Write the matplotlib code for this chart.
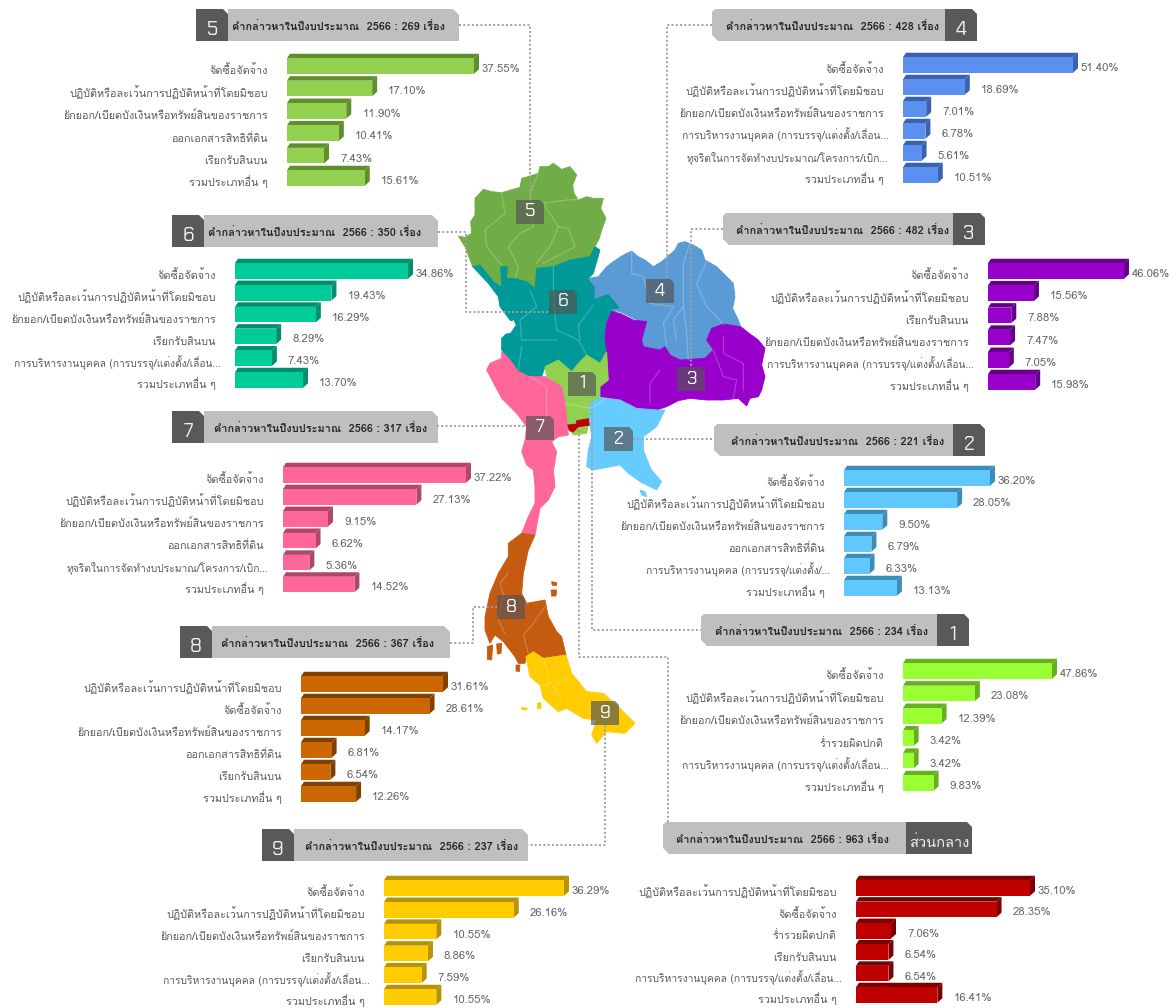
import matplotlib
matplotlib.use("Agg")
import matplotlib.pyplot as plt
from matplotlib.patches import Polygon

plt.rcParams['font.family'] = ['Loma', 'Noto Sans', 'DejaVu Sans']

W, H = 1176, 1008

BUY = "จัดซื้อจัดจ้าง"
DUTY = "ปฏิบัติหรือละเว้นการปฏิบัติหน้าที่โดยมิชอบ"
EMB = "ยักยอก/เบียดบังเงินหรือทรัพย์สินของราชการ"
LAND = "ออกเอกสารสิทธิที่ดิน"
BRIBE = "เรียกรับสินบน"
HR = "การบริหารงานบุคคล (การบรรจุ/แต่งตั้ง/เลื่อน..."
HR2 = "การบริหารงานบุคคล (การบรรจุ/แต่งตั้ง/..."
BUDGET = "ทุจริตในการจัดทำงบประมาณ/โครงการ/เบิก..."
RICH = "ร่ำรวยผิดปกติ"
OTHER = "รวมประเภทอื่น ๆ"

cats_5 = [BUY, DUTY, EMB, LAND, BRIBE, OTHER]
vals_5 = [37.55, 17.10, 11.90, 10.41, 7.43, 15.61]
cats_4 = [BUY, DUTY, EMB, HR, BUDGET, OTHER]
vals_4 = [51.40, 18.69, 7.01, 6.78, 5.61, 10.51]
cats_6 = [BUY, DUTY, EMB, BRIBE, HR, OTHER]
vals_6 = [34.86, 19.43, 16.29, 8.29, 7.43, 13.70]
cats_3 = [BUY, DUTY, BRIBE, EMB, HR, OTHER]
vals_3 = [46.06, 15.56, 7.88, 7.47, 7.05, 15.98]
cats_7 = [BUY, DUTY, EMB, LAND, BUDGET, OTHER]
vals_7 = [37.22, 27.13, 9.15, 6.62, 5.36, 14.52]
cats_2 = [BUY, DUTY, EMB, LAND, HR2, OTHER]
vals_2 = [36.20, 28.05, 9.50, 6.79, 6.33, 13.13]
cats_8 = [DUTY, BUY, EMB, LAND, BRIBE, OTHER]
vals_8 = [31.61, 28.61, 14.17, 6.81, 6.54, 12.26]
cats_1 = [BUY, DUTY, EMB, RICH, HR, OTHER]
vals_1 = [47.86, 23.08, 12.39, 3.42, 3.42, 9.83]
cats_9 = [BUY, DUTY, EMB, BRIBE, HR, OTHER]
vals_9 = [36.29, 26.16, 10.55, 8.86, 7.59, 10.55]
cats_c = [DUTY, BUY, RICH, BRIBE, HR, OTHER]
vals_c = [35.10, 28.35, 7.06, 6.54, 6.54, 16.41]

# name, cats, vals, total, bar left px, bar right px, first bar centre px, row pitch, colour, side colour
panels = [
    ("5", cats_5, vals_5, 269, 287, 474, 66, 22.4, "#92D050", "#5F8F2C"),
    ("4", cats_4, vals_4, 428, 903, 1073, 65, 22.0, "#5B8FF0", "#3A62AE"),
    ("6", cats_6, vals_6, 350, 235, 408, 271, 21.8, "#00CC99", "#008F6B"),
    ("3", cats_3, vals_3, 482, 988, 1124, 271, 22.2, "#9900CC", "#660088"),
    ("7", cats_7, vals_7, 317, 283, 466, 475, 21.9, "#FF6699", "#B0466A"),
    ("2", cats_2, vals_2, 221, 844, 990, 478, 22.0, "#5FC8FF", "#3D8DB8"),
    ("8", cats_8, vals_8, 367, 301, 443, 684, 22.0, "#CC6600", "#7F4000"),
    ("1", cats_1, vals_1, 234, 903, 1052, 671, 22.4, "#99FF33", "#66B020"),
    ("9", cats_9, vals_9, 237, 384, 564, 888, 21.8, "#FFCC00", "#B89200"),
    ("ส่วนกลาง", cats_c, vals_c, 963, 856, 1030, 888, 21.4, "#C00000", "#7C0000"),
]

# header boxes: grey x0, grey x1, top y, dark x0, dark x1, title centre x
headers = {
    "5": (228, 459, 9, 196, 228, 338),
    "4": (712, 945, 9, 945, 977, 833),
    "6": (204, 438, 215, 172, 204, 315),
    "3": (723, 953, 213, 953, 985, 843),
    "7": (204, 438, 411, 172, 204, 321),
    "2": (714, 953, 424, 953, 985, 838),
    "8": (212, 450, 626, 180, 212, 328),
    "1": (701, 937, 614, 937, 969, 822),
    "9": (294, 528, 829, 262, 294, 412),
    "ส่วนกลาง": (663, 906, 822, 906, 972, 783),
}

connectors = [
    [(459, 25), (530, 25), (530, 200)],
    [(712, 25), (667, 25), (667, 279)],
    [(723, 229), (691, 229), (691, 367)],
    [(438, 232), (466, 232), (466, 312), (549, 312)],
    [(437, 426), (525, 426)],
    [(633, 439), (714, 439)],
    [(592, 396), (592, 630), (701, 630)],
    [(579, 430), (579, 657), (668, 657), (668, 822)],
    [(450, 643), (473, 643), (473, 607), (497, 607)],
    [(605, 725), (605, 845), (528, 845)],
]

# map outlines
def up(pts):
    return [(430 + x / 3, 150 + y / 3) for x, y in pts]

def lo(pts):
    return [(440 + x / 3, 460 + y / 3) for x, y in pts]

map_5 = up([(85, 258), (105, 262), (125, 250), (122, 215), (135, 195), (135, 145), (160, 118), (185, 125), (215, 128), (250, 118), (270, 112), (275, 85), (300, 78), (325, 70), (330, 50), (355, 50), (370, 40), (395, 58), (420, 50), (440, 75), (428, 105), (432, 130), (445, 150), (470, 140), (490, 145), (520, 145), (512, 175), (528, 205), (515, 240), (508, 265), (495, 290), (505, 320), (480, 320), (420, 330), (370, 350), (320, 355), (315, 415), (290, 395), (255, 385), (230, 385), (232, 350), (212, 350), (215, 412), (190, 395), (150, 345), (128, 350), (105, 290)])
map_6 = up([(128, 350), (150, 345), (190, 395), (215, 412), (212, 350), (232, 350), (230, 385), (255, 385), (290, 395), (315, 415), (320, 355), (370, 350), (420, 330), (480, 320), (495, 290), (510, 300), (490, 370), (475, 385), (495, 410), (495, 445), (535, 430), (572, 475), (545, 490), (530, 520), (525, 560), (530, 605), (525, 630), (510, 640), (470, 615), (445, 640), (425, 665), (385, 630), (345, 650), (335, 680), (300, 680), (265, 665), (240, 630), (215, 600), (215, 565), (235, 545), (255, 520), (240, 510), (210, 470), (205, 440), (175, 400)])
map_lake = up([(225, 530), (250, 512), (256, 525), (240, 548), (222, 550)])
map_4 = up([(475, 385), (505, 380), (530, 350), (550, 335), (575, 318), (605, 303), (625, 320), (645, 330), (670, 350), (695, 335), (712, 320), (735, 300), (745, 280), (765, 275), (790, 285), (815, 300), (825, 330), (860, 350), (885, 375), (910, 400), (915, 440), (908, 475), (925, 510), (932, 530), (880, 525), (845, 535), (830, 570), (850, 600), (825, 625), (790, 630), (750, 630), (720, 615), (705, 590), (690, 600), (640, 590), (635, 570), (650, 520), (610, 505), (570, 485), (545, 480), (572, 475), (535, 430), (495, 445), (495, 410)])
map_3 = up([(545, 485), (570, 490), (610, 510), (650, 515), (635, 570), (640, 590), (690, 600), (705, 590), (720, 615), (750, 630), (825, 625), (850, 600), (830, 570), (845, 535), (880, 522), (932, 530), (960, 552), (985, 570), (1005, 595), (1000, 620), (995, 645), (1005, 680), (995, 720), (985, 740), (960, 745), (950, 768), (925, 745), (880, 750), (830, 750), (780, 745), (745, 752), (710, 770), (680, 780), (620, 775), (570, 750), (510, 742), (510, 710), (535, 690), (530, 605), (525, 560), (530, 520)])
map_1 = up([(345, 650), (385, 630), (425, 665), (445, 640), (470, 615), (510, 640), (530, 605), (535, 690), (510, 710), (510, 742), (480, 760), (478, 810), (470, 850), (430, 855), (410, 825), (405, 760), (395, 710), (350, 680)])
map_c = up([(413, 825), (440, 822), (440, 812), (475, 806), (478, 826), (445, 830), (430, 846), (418, 842)])
map_7 = up([(215, 605), (240, 630), (265, 665), (300, 680), (345, 680), (395, 710), (405, 760), (415, 855), (385, 860), (365, 875), (380, 905), (372, 950)]) + lo([(345, 10), (340, 30), (345, 80), (325, 120), (300, 145), (285, 225), (245, 220), (265, 170), (285, 130), (285, 80), (280, 30), (260, 15)]) + up([(275, 905), (285, 870), (290, 830), (260, 790), (215, 745), (170, 660), (180, 640), (215, 625)])
map_2 = up([(480, 760), (510, 742), (570, 750), (620, 775), (680, 780), (705, 780), (680, 830), (640, 860), (640, 900), (660, 950)]) + lo([(635, 30), (665, 65), (650, 90), (600, 65), (565, 40), (540, 15), (460, 30), (440, 20)]) + up([(475, 900), (485, 860), (478, 810)])
map_2b = lo([(600, 90), (615, 95), (620, 110), (605, 105)])
map_8 = lo([(245, 220), (285, 225), (265, 270), (250, 340), (245, 400), (260, 430), (315, 420), (325, 470), (350, 515), (365, 530), (378, 585), (310, 595), (280, 575), (258, 590), (255, 610), (235, 610), (225, 590), (190, 545), (165, 525), (150, 550), (135, 510), (135, 470), (150, 400), (175, 340), (205, 290), (205, 250)])
map_8b = lo([(142, 560), (158, 555), (155, 600), (142, 598)])
map_8c = lo([(170, 552), (185, 550), (183, 580), (172, 582)])
map_8d = lo([(335, 365), (350, 368), (350, 376), (337, 376)])
map_8e = lo([(333, 390), (350, 390), (348, 408), (335, 408)])
map_8f = lo([(228, 615), (240, 615), (238, 635), (228, 633)])
map_9 = lo([(258, 590), (280, 575), (310, 595), (378, 585), (395, 640), (440, 695), (490, 700), (530, 735), (585, 790), (555, 820), (500, 815), (470, 850), (455, 825), (470, 780), (430, 775), (380, 745), (355, 755), (310, 715), (300, 675), (270, 650)])
map_9b = lo([(292, 730), (303, 728), (303, 745), (292, 747)])
map_9c = lo([(245, 742), (262, 745), (260, 750), (246, 748)])

regions = [
    (map_5, "#70AD47"), (map_6, "#009999"), (map_4, "#5B9BD5"), (map_3, "#9900CC"),
    (map_1, "#92D050"), (map_7, "#FF6699"), (map_2, "#66CCFF"), (map_2b, "#66CCFF"),
    (map_8, "#C55A11"), (map_8b, "#C55A11"), (map_8c, "#C55A11"), (map_8d, "#C55A11"),
    (map_8e, "#C55A11"), (map_8f, "#C55A11"), (map_9, "#FFCC00"), (map_9b, "#FFCC00"),
    (map_9c, "#FFCC00"), (map_lake, "white"), (map_c, "#C00000"),
]

province_lines = [
    up([(215, 128), (225, 190), (165, 240), (170, 290), (215, 345)]),
    up([(325, 70), (300, 130), (310, 230), (270, 250), (235, 290), (265, 350), (255, 385)]),
    up([(445, 148), (410, 150), (340, 160), (385, 230), (415, 235), (435, 290), (340, 340)]),
    up([(385, 230), (360, 290), (320, 340)]),
    up([(370, 350), (370, 410), (375, 500), (380, 540), (445, 570), (470, 615)]),
    up([(300, 420), (320, 470), (270, 510), (275, 570), (380, 570)]),
    up([(490, 465), (445, 525), (450, 570)]),
    up([(275, 590), (265, 660)]),
    up([(605, 305), (605, 370), (640, 380), (660, 460), (730, 470), (700, 520), (710, 590)]),
    up([(780, 280), (760, 340), (760, 470), (770, 550), (775, 630)]),
    up([(830, 335), (800, 400), (830, 470), (860, 500), (880, 525)]),
    up([(760, 470), (730, 510), (740, 570)]),
    up([(690, 660), (660, 700), (660, 760)]),
    up([(850, 600), (880, 680), (920, 690), (910, 745)]),
    up([(880, 560), (880, 610), (940, 640), (940, 720)]),
    up([(300, 680), (350, 710), (350, 800)]),
    up([(405, 760), (480, 775), (530, 745)]),
    lo([(205, 340), (180, 370), (190, 400), (175, 480), (195, 520)]),
    lo([(315, 440), (280, 490), (250, 525), (265, 580)]),
    lo([(310, 595), (330, 670), (305, 680)]),
    lo([(378, 655), (340, 680), (365, 720)]),
]

# number boxes lying on the map: label, x0, y0, x1, y1
map_boxes = [
    ("5", 516, 200, 544, 224), ("6", 549, 290, 577, 314), ("4", 646, 279, 674, 303),
    ("3", 677, 367, 705, 391), ("1", 568, 372, 596, 396), ("7", 526, 416, 554, 440),
    ("2", 604, 427, 633, 451), ("8", 497, 595, 525, 619), ("9", 591, 701, 619, 725),
]

fig = plt.figure(figsize=(W / 100, H / 100), dpi=100)
bg = fig.add_axes([0, 0, 1, 1])
bg.set_xlim(0, W)
bg.set_ylim(H, 0)
bg.axis("off")

for outline, colour in regions:
    bg.add_patch(Polygon(outline, closed=True, fc=colour, ec=colour, lw=0.6, zorder=2))
for line in province_lines:
    bg.plot(*zip(*line), color="white", alpha=0.22, lw=0.9, zorder=3)
for line in connectors:
    bg.plot(*zip(*line), color="#A0A0A0", lw=1.4, ls=(0, (1, 1.2)), zorder=4)
for label, x0, y0, x1, y1 in map_boxes:
    bg.add_patch(Polygon([(x0, y0), (x1 - 4, y0), (x1, y0 + 4), (x1, y1), (x0, y1)], closed=True,
                         fc="#555555", alpha=0.68, ec="none", zorder=5))
    bg.text((x0 + x1) / 2, (y0 + y1) / 2, label, color="white", fontsize=13,
            family=["Chakra Petch", "DejaVu Sans"], ha="center", va="center", zorder=6)

for name, cats, vals, total, left, right, first, pitch, colour, side in panels:
    gx0, gx1, top, dx0, dx1, title_x = headers[name]
    bottom = top + 32
    if dx0 < gx0:
        grey = [(gx0, top), (gx1 - 6, top), (gx1, top + 6), (gx1, bottom), (gx0, bottom)]
    else:
        grey = [(gx0 + 3, top), (gx1, top), (gx1, bottom), (gx0 + 6, bottom), (gx0, bottom - 6), (gx0, top + 3)]
    dark = [(dx0, top), (dx1 - 5, top), (dx1, top + 5), (dx1, bottom), (dx0, bottom)]
    bg.add_patch(Polygon(grey, closed=True, fc="#BFBFBF", ec="none", zorder=2))
    bg.add_patch(Polygon(dark, closed=True, fc="#595959", ec="none", zorder=2))
    bg.text(title_x, top + 22, f"คำกล่าวหาในปีงบประมาณ  2566 : {total} เรื่อง",
            fontsize=7.9, fontweight="bold", color="#262626", ha="center", va="baseline", zorder=3)
    bg.text((dx0 + dx1) / 2, top + 21, name, color="#F2F2F2", fontsize=10.5 if len(name) > 1 else 14,
            ha="center", va="center", zorder=3,
            family=["Loma", "DejaVu Sans"] if len(name) > 1 else ["Chakra Petch", "DejaVu Sans"])

    # one small axes per panel so that the bars come from its own x scale
    n = len(vals)
    ax = fig.add_axes([left / W, 1 - (first - pitch / 2 + n * pitch) / H,
                       (right - left) / W, n * pitch / H])
    ax.set_xlim(0, max(vals))
    ax.set_ylim(n - 0.5, -0.5)
    ax.axis("off")
    ax.patch.set_visible(False)
    px = max(vals) / (right - left)
    bar_h = 15.5 / pitch
    ddx, ddy = 5 * px, 4.5 / pitch
    for i, v in enumerate(vals):
        y0, y1 = i - bar_h / 2, i + bar_h / 2
        ax.barh(i, v, height=bar_h, color=colour, zorder=3)
        ax.add_patch(Polygon([(0, y0), (ddx * 0.6, y0 - ddy), (v + ddx, y0 - ddy), (v, y0)], closed=True,
                             fc=side, ec="none", clip_on=False, zorder=2))
        ax.add_patch(Polygon([(v, y0), (v + ddx, y0 - ddy), (v + ddx, y1 - ddy), (v, y1)], closed=True,
                             fc=side, ec="none", clip_on=False, zorder=2))
        # shortened labels run a little further right in the original
        short = cats[i].endswith("...")
        ax.annotate(cats[i], (0, i), xytext=(-10.5 if short else -14, -6.1), textcoords="offset points",
                    ha="right", va="baseline", fontsize=7.4 if short else 7.8, color="#595959",
                    annotation_clip=False)
        gap = 8 if v == max(vals) else 16
        ax.annotate(f"{v:.2f}%", (v, i), xytext=(gap * 0.72, -4.3), textcoords="offset points", ha="left",
                    va="baseline", fontsize=8.2, color="#666666", annotation_clip=False)

fig.savefig("out.png", dpi=100)
